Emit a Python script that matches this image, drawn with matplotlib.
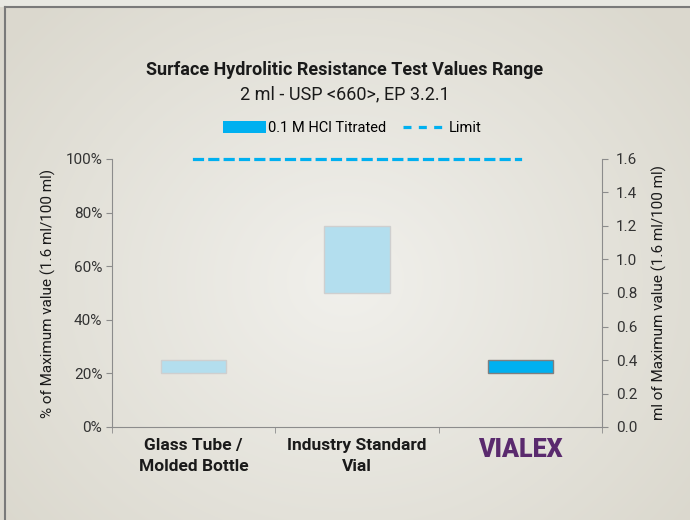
import numpy as np
import matplotlib
matplotlib.use('Agg')
import matplotlib.pyplot as plt
from matplotlib.patches import Patch
from matplotlib.lines import Line2D

plt.rcParams['font.family'] = ['Roboto', 'DejaVu Sans']

# data
categories = ['Glass Tube /\nMolded Bottle', 'Industry Standard\nVial', 'VIALEX']
low_pct = [20, 50, 20]     # % of maximum value
high_pct = [25, 75, 25]
limit_pct = [100, 100, 100]
right_ticks = [0.0, 0.2, 0.4, 0.6, 0.8, 1.0, 1.2, 1.4, 1.6]

blue = '#00B0F0'
light = '#B3DEEE'
grey = '#8C8C8C'

fig = plt.figure(figsize=(6.9, 5.2), dpi=100)

# background with soft radial gradient
bg = fig.add_axes([0, 0, 1, 1], zorder=-10)
yy, xx = np.mgrid[0:520, 0:690]
r = np.sqrt(((xx - 345) / 430.0) ** 2 + ((yy - 280) / 380.0) ** 2)
r = np.clip(r, 0, 1)
c_in = np.array([0.945, 0.942, 0.925])
c_out = np.array([0.86, 0.85, 0.81])
img = c_in[None, None, :] * (1 - r[..., None]) + c_out[None, None, :] * r[..., None]
img[:7, :, :] = [0.91, 0.91, 0.89]
bg.imshow(img, aspect='auto', extent=[0, 1, 0, 1])
bg.axis('off')

# frame lines (top and left)
fig.add_artist(Line2D([5 / 690, 5 / 690], [0, 1 - 7 / 520], color='#7A7A7A', lw=1.5))
fig.add_artist(Line2D([5 / 690, 1], [1 - 7 / 520, 1 - 7 / 520], color='#7A7A7A', lw=1.5))

ax = fig.add_axes([112 / 690, 93 / 520, 490 / 690, 268 / 520])
ax.patch.set_alpha(0)
x = np.arange(len(categories))
heights = [h - l for h, l in zip(high_pct, low_pct)]
colors = [light, light, blue]
edges = ['#CFCFCF', '#CFCFCF', '#7F7F7F']
ax.bar(x, heights, bottom=low_pct, width=0.4, color=colors, edgecolor=edges, linewidth=1)
ax.plot(x, limit_pct, color=blue, lw=2.3, linestyle=(0, (2.5, 2.3)), clip_on=False,
        dash_capstyle='projecting')

ax.set_xlim(-0.5, 2.5)
ax.set_ylim(0, 100)
ax.set_yticks(range(0, 101, 20))
ax.set_yticklabels(['%d%%' % v for v in range(0, 101, 20)], fontsize=11, color='#333333')
ax.set_xticks(x)
ax.set_xticklabels(categories, fontsize=12.5, fontweight='bold', color='#1a1a1a',
                   linespacing=1.5)
ax.set_xticks([-0.5, 0.5, 1.5, 2.5], minor=True)
ax.tick_params(axis='x', which='major', length=0, pad=8)
ax.tick_params(axis='x', which='minor', length=4, color=grey)
ax.tick_params(axis='y', length=4, color=grey, pad=3)
lab = ax.get_xticklabels()[2]
lab.set_color('#5A2A6E')
lab.set_fontsize(18)
lab.set_fontweight('heavy')
for s in ['top', 'right']:
    ax.spines[s].set_visible(False)
for s in ['left', 'bottom']:
    ax.spines[s].set_color(grey)
ax.set_ylabel('% of Maximum value (1.6 ml/100 ml)', fontsize=11, color='#1a1a1a', labelpad=7)

ax2 = ax.twinx()
ax2.set_ylim(0, 1.6)
ax2.set_yticks(right_ticks)
ax2.set_yticklabels(['%.1f' % v for v in right_ticks], fontsize=11, color='#333333')
ax2.tick_params(axis='y', length=4, color=grey, pad=6)
for s in ['top', 'left', 'bottom']:
    ax2.spines[s].set_visible(False)
ax2.spines['right'].set_color(grey)
ax2.set_ylabel('ml of Maximum value (1.6 ml/100 ml)', fontsize=11, color='#1a1a1a', labelpad=10)

fig.text(0.5, 1 - 70 / 520, 'Surface Hydrolitic Resistance Test Values Range',
         ha='center', va='center', fontsize=13, fontweight='bold', color='#1a1a1a')
fig.text(0.5, 1 - 94 / 520, '2 ml - USP <660>, EP 3.2.1',
         ha='center', va='center', fontsize=13, color='#1a1a1a')

handles = [Patch(facecolor=blue, edgecolor='none'),
           Line2D([0], [0], color=blue, lw=2.3, linestyle=(0, (2.5, 2.3)))]
fig.legend(handles, ['0.1 M HCl Titrated', 'Limit'], loc='center',
           bbox_to_anchor=(0.51, 1 - 128 / 520), ncol=2, frameon=False, fontsize=10.5,
           handlelength=3.0, handleheight=0.8, handletextpad=0.15, columnspacing=1.1)

fig.savefig('out.png', dpi=100)
